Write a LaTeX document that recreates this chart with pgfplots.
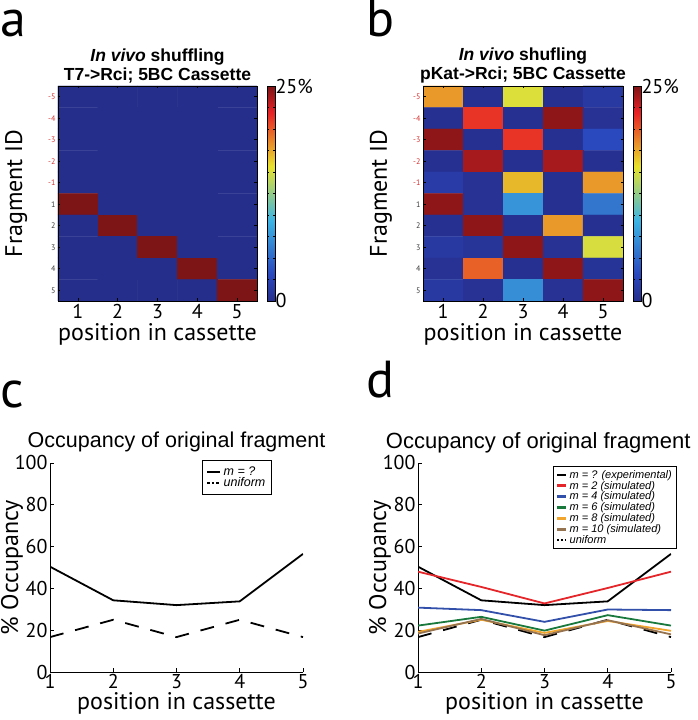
\documentclass[border=0pt]{standalone}
\usepackage{fontspec}
\setmainfont{Liberation Sans}
\newfontfamily\pt{PT Sans}
\usepackage{pgfplots}
\usepackage{pgfplotstable}
\pgfplotsset{compat=1.18}

\definecolor{tred}{RGB}{215,50,50}
\definecolor{tgray}{RGB}{60,60,60}
\definecolor{cred}{RGB}{228,38,42}
\definecolor{cblue}{RGB}{50,80,170}
\definecolor{cgreen}{RGB}{25,120,60}
\definecolor{corange}{RGB}{242,165,45}
\definecolor{cbrown}{RGB}{150,115,80}

% y index 1..10 = fragment -5,-4,-3,-2,-1,1,2,3,4,5
\pgfplotstableread{
x y c
1 1 0
2 1 0
3 1 0
4 1 0
5 1 0
1 2 0
2 2 0
3 2 0
4 2 0
5 2 0
1 3 0
2 3 0
3 3 0
4 3 0
5 3 0
1 4 0
2 4 0
3 4 0
4 4 0
5 4 0
1 5 0
2 5 0
3 5 0
4 5 0
5 5 0
1 6 25
2 6 0
3 6 0
4 6 0
5 6 0
1 7 0
2 7 25
3 7 0
4 7 0
5 7 0
1 8 0
2 8 0
3 8 25
4 8 0
5 8 0
1 9 0
2 9 0
3 9 0
4 9 25
5 9 0
1 10 0
2 10 0
3 10 0
4 10 0
5 10 25
}\tableA

\pgfplotstableread{
x y c
1 1 18.0
2 1 0.3
3 1 15.2
4 1 0.3
5 1 1.4
1 2 0.3
2 2 21.3
3 2 0.3
4 2 24.5
5 2 0.5
1 3 24.5
2 3 0.3
3 3 21.3
4 3 0.3
5 3 3.2
1 4 0.3
2 4 23.8
3 4 0.3
4 4 23.8
5 4 0.3
1 5 1.6
2 5 0.5
3 5 17.0
4 5 0.3
5 5 18.0
1 6 24.5
2 6 0.5
3 6 7.5
4 6 0.3
5 6 5.8
1 7 0.3
2 7 24.5
3 7 0.3
4 7 18.0
5 7 0.3
1 8 1.4
2 8 0.8
3 8 24.5
4 8 0.5
5 8 15.0
1 9 0.5
2 9 19.8
3 9 0.3
4 9 24.5
5 9 0.7
1 10 1.4
2 10 0.5
3 10 7.2
4 10 0.5
5 10 24.5
}\tableB

\pgfplotsset{
  heat/.style={
    scale only axis, width=199pt, height=215pt,
    xmin=0.5, xmax=5.5, ymin=0.5, ymax=10.5, y dir=reverse,
    enlargelimits=false, axis on top,
    axis line style={line width=0.8pt},
    xtick={1,...,5}, ytick={1,...,10},
    yticklabels={{\color{tred}-5},{\color{tred}-4},{\color{tred}-3},{\color{tred}-2},{\color{tred}-1},{\color{tgray}1},{\color{tgray}2},{\color{tgray}3},{\color{tgray}4},{\color{tgray}5}},
    tick align=inside, major tick length=2.5pt,
    tick style={black, line width=0.6pt},
    /pgf/number format/assume math mode=true,
    xticklabel style={font=\pt\fontsize{20}{20}\selectfont},
    yticklabel style={font=\pt\fontsize{8}{8}\selectfont, xshift=1pt},
    colormap={myjet}{rgb255(0cm)=(38,46,140); rgb255(1cm)=(42,72,190); rgb255(3cm)=(60,180,228); rgb255(5cm)=(232,226,45); rgb255(7cm)=(232,34,38); rgb255(8cm)=(125,20,22)},
    point meta min=0, point meta max=25,
    colorbar,
    colorbar style={
      scale only axis, width=8pt,
      at={(parent axis.north east)}, anchor=north west, xshift=1.5pt,
      ytick={0,25}, yticklabels={0,25\%},
      minor ytick={2.5,5,...,22.5},
      tick align=inside, major tick length=2pt, minor tick length=2pt,
      tick style={black, line width=0.6pt},
      axis line style={line width=0.8pt},
      yticklabel style={font=\pt\fontsize{20}{20}\selectfont, xshift=-3pt},
      /pgf/number format/assume math mode=true,
    },
    title style={font=\bfseries\fontsize{17.5}{19.5}\selectfont, align=center, yshift=-7pt},
    xlabel={position in cassette},
    xlabel style={font=\pt\fontsize{24}{24}\selectfont, at={(axis description cs:0.5,-0.155)}, anchor=center},
    ylabel={Fragment ID},
    ylabel style={font=\pt\fontsize{24}{24}\selectfont, at={(axis description cs:-0.21,0.5)}, anchor=center, rotate=0},
  },
  occ/.style={
    scale only axis, width=253pt, height=209pt,
    xmin=1, xmax=5, ymin=0, ymax=100,
    axis lines=left, axis line style={-, line width=0.9pt},
    xtick={1,...,5}, ytick={0,20,...,100},
    tick align=inside, major tick length=4pt,
    tick style={black, line width=0.9pt},
    /pgf/number format/assume math mode=true,
    ticklabel style={font=\pt\fontsize{20}{20}\selectfont},
    xticklabel style={yshift=1pt},
    yticklabel style={xshift=1pt},
    title={Occupancy of original fragment},
    title style={font=\fontsize{21.5}{24}\selectfont, at={(axis description cs:0.5,1.07)}, anchor=center},
    xlabel={position in cassette},
    xlabel style={font=\pt\fontsize{24}{24}\selectfont, at={(axis description cs:0.5,-0.15)}, anchor=center},
    ylabel={\% Occupancy},
    ylabel style={font=\pt\fontsize{24}{24}\selectfont, at={(axis description cs:-0.15,0.5)}, anchor=center, rotate=0},
    legend cell align=left,
    legend style={draw=black, line width=0.9pt, fill=white, inner sep=1.8pt,
      font=\itshape\fontsize{11}{12}\selectfont, row sep=-2.6pt},
    legend image code/.code={\draw[#1, line width=2.6pt] (0pt,0pt) -- (9pt,0pt);},
  },
}

\begin{document}
\begin{tikzpicture}
\path[use as bounding box] (0pt,0pt) rectangle (697pt,720pt);

% panel letters
\node[anchor=base west, inner sep=0pt, font=\pt\fontsize{52}{52}\selectfont] at (0pt,683pt) {a};
\node[anchor=base west, inner sep=0pt, font=\pt\fontsize{52}{52}\selectfont] at (366pt,683pt) {b};
\node[anchor=base west, inner sep=0pt, font=\pt\fontsize{52}{52}\selectfont] at (0pt,312pt) {c};
\node[anchor=base west, inner sep=0pt, font=\pt\fontsize{52}{52}\selectfont] at (366pt,322pt) {d};

% panel a
\begin{axis}[heat, at={(58pt,419pt)}, anchor=south west,
  title={\textit{In vivo} shuffling\\T7->Rci; 5BC Cassette}]
\addplot[matrix plot*, mesh/cols=5, point meta=explicit] table[x=x, y=y, meta=c] {\tableA};
\node[rotate=90, text=tred, font=\pt\fontsize{12}{12}\selectfont] at (axis description cs:-0.105,0.63) {Inverted};
\node[rotate=90, text=black, font=\pt\fontsize{12}{12}\selectfont] at (axis description cs:-0.105,0.375) {Original};
\fill[tred] (axis description cs:-0.135,0.505) rectangle (axis description cs:-0.07,0.52);
\fill[black] (axis description cs:-0.135,0.49) rectangle (axis description cs:-0.07,0.505);
\end{axis}

% panel b
\begin{axis}[heat, width=200pt, at={(423pt,419pt)}, anchor=south west,
  title={\textit{In vivo} shufling\\pKat->Rci; 5BC Cassette}]
\addplot[matrix plot*, mesh/cols=5, point meta=explicit] table[x=x, y=y, meta=c] {\tableB};
\node[rotate=90, text=tred, font=\pt\fontsize{12}{12}\selectfont] at (axis description cs:-0.095,0.63) {Inverted};
\node[rotate=90, text=black, font=\pt\fontsize{12}{12}\selectfont] at (axis description cs:-0.095,0.375) {Original};
\fill[tred] (axis description cs:-0.125,0.505) rectangle (axis description cs:-0.06,0.52);
\fill[black] (axis description cs:-0.125,0.49) rectangle (axis description cs:-0.06,0.505);
\end{axis}

% panel c
\begin{axis}[occ, at={(50pt,48pt)}, anchor=south west,
  legend style={at={(0.6,1.014)}, anchor=north west, inner xsep=4pt, inner ysep=4.5pt,
    font=\itshape\fontsize{12.5}{13}\selectfont, row sep=-3.5pt},
  legend image code/.code={\draw[#1, line width=2.4pt] (0pt,0pt) -- (13pt,0pt);}]
\addplot[black, line width=1.8pt] coordinates {(1,50.4) (2,34.3) (3,32) (4,33.8) (5,56.5)};
\addlegendentry{m = ?}
\addplot[black, line width=1.8pt, dash pattern=on 14pt off 12pt,
  legend image code/.code={\draw[black, line width=2.4pt, dash pattern=on 2.5pt off 2pt] (0pt,0pt) -- (13pt,0pt);}]
  coordinates {(1,16.7) (2,25) (3,16.7) (4,25) (5,16.7)};
\addlegendentry{uniform}
\end{axis}

% panel d
\begin{axis}[occ, at={(418pt,48pt)}, anchor=south west,
  title style={at={(axis description cs:0.475,1.07)}, font=\fontsize{22}{24}\selectfont},
  legend style={at={(0.534,0.986)}, anchor=north west, inner xsep=2.5pt}]
\addplot[black, line width=1.8pt] coordinates {(1,50.4) (2,34.3) (3,32) (4,33.8) (5,56.5)};
\addlegendentry{m = ? (experimental)}
\addplot[cred, line width=1.8pt] coordinates {(1,48) (2,40.7) (3,32.8) (4,40.2) (5,48)};
\addlegendentry{m = 2 (simulated)}
\addplot[cblue, line width=1.8pt] coordinates {(1,30.8) (2,29.6) (3,24) (4,29.9) (5,29.6)};
\addlegendentry{m = 4 (simulated)}
\addplot[cgreen, line width=1.8pt] coordinates {(1,22.2) (2,26.4) (3,19.8) (4,27.2) (5,22.2)};
\addlegendentry{m = 6 (simulated)}
\addplot[black, line width=1.8pt, dash pattern=on 14pt off 12pt, forget plot]
  coordinates {(1,16.7) (2,25) (3,16.7) (4,25) (5,16.7)};
\addplot[corange, line width=1.8pt] coordinates {(1,19.2) (2,25) (3,18.7) (4,24.4) (5,19.7)};
\addlegendentry{m = 8 (simulated)}
\addplot[cbrown, line width=1.8pt] coordinates {(1,18.4) (2,25.4) (3,17.6) (4,24.8) (5,18)};
\addlegendentry{m = 10 (simulated)}
\addlegendimage{legend image code/.code={\draw[black, line width=2.6pt, dash pattern=on 2pt off 1.6pt] (0pt,0pt) -- (9pt,0pt);}}
\addlegendentry{uniform}
\end{axis}
\end{tikzpicture}
\end{document}
